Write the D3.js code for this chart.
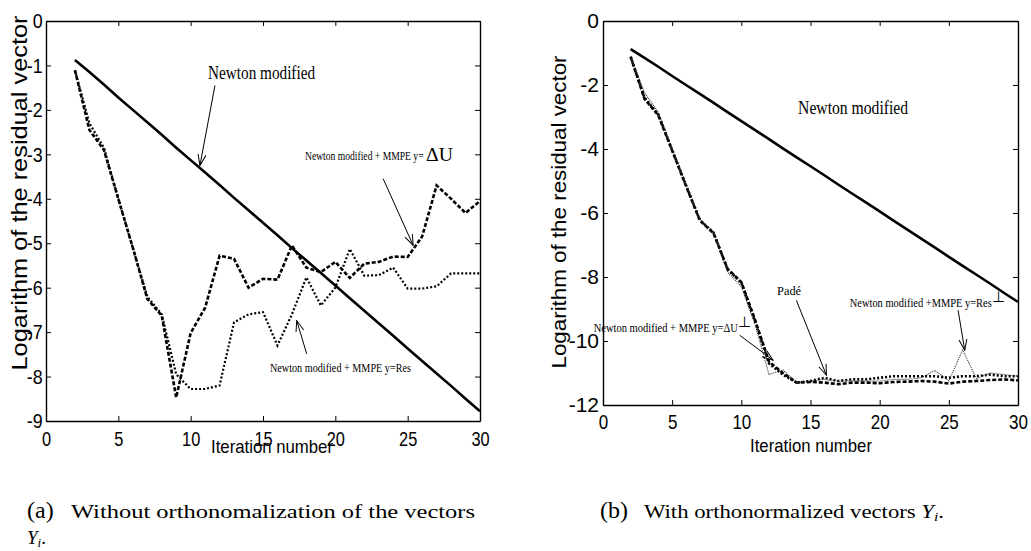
<!DOCTYPE html>
<html>
<head>
<meta charset="utf-8">
<script src="https://cdn.jsdelivr.net/npm/d3@7"></script>
<style>
  body { margin: 0; background: #fff; }
  svg { display: block; }
</style>
</head>
<body>
<svg width="1031" height="551"></svg>
<script>
// iteration numbers shared by every curve
const iterations = [2, 3, 4, 5, 6, 7, 8, 9, 10, 11, 12, 13, 14, 15, 16, 17, 18, 19, 20, 21, 22, 23, 24, 25, 26, 27, 28, 29, 30];

// plain modified Newton, same in both panels
const newtonModified = [-0.88, -1.15, -1.43, -1.72, -2.0, -2.28, -2.56, -2.85, -3.13, -3.41, -3.69, -3.98, -4.26, -4.54, -4.82,
  -5.11, -5.39, -5.67, -5.95, -6.24, -6.52, -6.8, -7.08, -7.37, -7.65, -7.93, -8.21, -8.5, -8.78];

// panel (a)
const mmpeDeltaU = [-1.11, -2.45, -2.9, -4.0, -5.1, -6.25, -6.63, -8.47, -7.02, -6.45, -5.28, -5.35, -6.0, -5.8, -5.82,
  -5.05, -5.55, -5.65, -5.42, -5.78, -5.46, -5.42, -5.3, -5.31, -4.85, -3.7, -4.0, -4.32, -4.05];
const mmpeRes = [-1.11, -2.3, -2.85, -4.0, -5.1, -6.2, -6.6, -7.95, -8.28, -8.28, -8.2, -6.78, -6.6, -6.55, -7.3,
  -6.6, -5.77, -6.4, -6.0, -5.13, -5.73, -5.72, -5.55, -6.02, -6.02, -5.97, -5.68, -5.68, -5.68];

// panel (b)
const mmpeDeltaUOrtho = [-1.12, -2.43, -2.95, -4.05, -5.15, -6.23, -6.64, -7.74, -8.16, -9.35, -10.65, -11.0, -11.3, -11.28, -11.3,
  -11.35, -11.3, -11.3, -11.32, -11.28, -11.27, -11.25, -11.27, -11.33, -11.27, -11.25, -11.22, -11.2, -11.23];
const mmpeResOrtho = [-1.1, -2.25, -2.85, -4.0, -5.1, -6.2, -6.6, -7.85, -8.3, -9.5, -11.05, -10.9, -11.3, -11.25, -11.2,
  -11.25, -11.25, -11.25, -11.25, -11.2, -11.2, -11.15, -10.92, -11.25, -10.28, -11.18, -11.0, -11.05, -11.1];
const pade = [-1.12, -2.4, -2.92, -4.03, -5.13, -6.22, -6.62, -7.76, -8.18, -9.4, -10.7, -11.05, -11.3, -11.25, -11.15,
  -11.25, -11.2, -11.2, -11.15, -11.1, -11.1, -11.1, -11.1, -11.15, -11.1, -11.1, -11.05, -11.1, -11.1];

const xTicks = [0, 5, 10, 15, 20, 25, 30];
const yTicksA = [0, -1, -2, -3, -4, -5, -6, -7, -8, -9];
const yTicksB = [0, -2, -4, -6, -8, -10, -12];

const svg = d3.select("svg");
const serif = "'Liberation Serif', 'Times New Roman', serif";
const sans = "'Liberation Sans', Arial, sans-serif";
const fmt = d => String(d); // plain hyphen minus, like the original

// open arrow head
svg.append("defs")
  .append("marker")
  .attr("id", "head")
  .attr("viewBox", "0 0 12 10")
  .attr("refX", 11)
  .attr("refY", 5)
  .attr("markerWidth", 12)
  .attr("markerHeight", 10)
  .attr("markerUnits", "userSpaceOnUse")
  .attr("orient", "auto")
  .append("path")
  .attr("d", "M0,1 L11,5 L0,9")
  .attr("fill", "none")
  .attr("stroke", "#000")
  .attr("stroke-width", 1);

const toPoints = values => values.map((v, i) => ({ x: iterations[i], y: v }));

const buildPanel = (cfg) => {
  const g = svg.append("g");
  const x = d3.scaleLinear().domain([0, 30]).range([cfg.left, cfg.right]);
  const y = d3.scaleLinear().domain(cfg.yDomain).range([cfg.bottom, cfg.top]);

  // box with inward ticks on all four sides
  g.append("g")
    .attr("transform", "translate(0," + cfg.bottom + ")")
    .call(d3.axisBottom(x).tickValues(xTicks).tickFormat(fmt).tickSizeInner(-5).tickSizeOuter(0).tickPadding(10))
    .call(a => a.selectAll("text")
      .attr("font-size", cfg.xFont)
      .attr("font-family", sans)
      .attr("transform", "scale(" + cfg.xSquash + ",1)"));
  g.append("g")
    .attr("transform", "translate(0," + cfg.top + ")")
    .call(d3.axisTop(x).tickValues(xTicks).tickSizeInner(-5).tickSizeOuter(0).tickFormat(""));
  g.append("g")
    .attr("transform", "translate(" + cfg.left + ",0)")
    .call(d3.axisLeft(y).tickValues(cfg.yTicks).tickFormat(fmt).tickSizeInner(-5).tickSizeOuter(0).tickPadding(cfg.yPad))
    .call(a => a.selectAll("text")
      .attr("font-size", cfg.yFont)
      .attr("font-family", sans)
      .attr("transform", "scale(" + cfg.ySquash + ",1)"));
  g.append("g")
    .attr("transform", "translate(" + cfg.right + ",0)")
    .call(d3.axisRight(y).tickValues(cfg.yTicks).tickSizeInner(-5).tickSizeOuter(0).tickFormat(""));
  g.selectAll(".domain").attr("stroke-width", 1.4);
  g.selectAll(".tick line").attr("stroke-width", 1);

  g.append("text")
    .attr("x", cfg.xLabel[0]).attr("y", cfg.xLabel[1])
    .attr("text-anchor", "middle")
    .attr("font-family", sans)
    .attr("font-size", 19)
    .attr("textLength", 122)
    .attr("lengthAdjust", "spacingAndGlyphs")
    .text("Iteration number");

  g.append("text")
    .attr("transform", "translate(" + cfg.yLabel[0] + "," + cfg.yLabel[1] + ") rotate(-90)")
    .attr("text-anchor", "middle")
    .attr("font-family", sans)
    .attr("font-size", cfg.yLabelFont)
    .attr("textLength", cfg.yLabelLen)
    .attr("lengthAdjust", "spacingAndGlyphs")
    .text("Logarithm of the residual vector");

  const line = d3.line().x(d => x(d.x)).y(d => y(d.y));
  cfg.series.forEach(s => {
    g.append("path")
      .datum(toPoints(s.values))
      .attr("d", line)
      .attr("fill", "none")
      .attr("stroke", s.color || "#000")
      .attr("stroke-width", s.width)
      .attr("stroke-dasharray", s.dash);
  });

  cfg.notes.forEach(n => {
    const t = g.append("text")
      .attr("x", x(n.at[0])).attr("y", y(n.at[1]))
      .attr("text-anchor", n.anchor || "start")
      .attr("dominant-baseline", "middle")
      .attr("font-family", serif)
      .attr("font-size", n.size);
    n.parts.forEach(p => {
      const ts = t.append("tspan").text(p.t);
      if (p.size) ts.attr("font-size", p.size);
      if (p.dy) ts.attr("dy", p.dy);
      if (p.len) ts.attr("textLength", p.len).attr("lengthAdjust", "spacingAndGlyphs");
    });
  });

  cfg.arrows.forEach(a => {
    g.append("line")
      .attr("x1", x(a[0][0])).attr("y1", y(a[0][1]))
      .attr("x2", x(a[1][0])).attr("y2", y(a[1][1]))
      .attr("stroke", "#000")
      .attr("stroke-width", 1)
      .attr("marker-end", "url(#head)");
  });
};

buildPanel({
  left: 46, right: 480, top: 21, bottom: 421,
  yDomain: [-9, 0], yTicks: yTicksA,
  xFont: 21, yFont: 21, yPad: 4, xSquash: 0.78, ySquash: 0.85,
  xLabel: [272, 453], yLabel: [27, 193], yLabelFont: 22, yLabelLen: 355,
  series: [
    { values: newtonModified, width: 2.6 },
    { values: mmpeDeltaU, width: 2.6, dash: "4,2" },
    { values: mmpeRes, width: 2.2, dash: "2,2" }
  ],
  notes: [
    { at: [14.9, -1.22], anchor: "middle", size: 19, parts: [{ t: "Newton modified", len: 107 }] },
    { at: [17.9, -3.06], size: 12, parts: [{ t: "Newton modified + MMPE  y= ", len: 121 }, { t: "ΔU", size: 18, len: 27 }] },
    { at: [15.48, -7.83], size: 12, parts: [{ t: "Newton modified + MMPE y=Res", len: 141 }] }
  ],
  arrows: [
    [[11.68, -1.45], [10.64, -3.25]],
    [[23.31, -3.55], [25.38, -5.05]],
    [[18.02, -7.49], [17.33, -6.74]]
  ]
});

buildPanel({
  left: 603, right: 1018, top: 21, bottom: 405,
  yDomain: [-12, 0], yTicks: yTicksB,
  xFont: 20, yFont: 21, yPad: 4, xSquash: 0.85, ySquash: 1,
  xLabel: [811, 452], yLabel: [566, 212], yLabelFont: 21, yLabelLen: 313,
  series: [
    { values: newtonModified, width: 2.6 },
    { values: pade, width: 2.6, dash: "2,2" },
    { values: mmpeDeltaUOrtho, width: 2.6, dash: "4,2" },
    { values: mmpeResOrtho, width: 1.1, dash: "1,1", color: "#333" }
  ],
  notes: [
    { at: [18.08, -2.79], anchor: "middle", size: 19, parts: [{ t: "Newton modified", len: 110 }] },
    { at: [13.45, -8.47], anchor: "middle", size: 13, parts: [{ t: "Padé", len: 24 }] },
    { at: [-0.67, -9.61], size: 12.5, parts: [{ t: "Newton modified + MMPE y=ΔU", len: 144 }, { t: "⊥", size: 15, dy: -5 }] },
    { at: [17.84, -8.85], size: 12.5, parts: [{ t: "Newton modified +MMPE y=Res", len: 142 }, { t: "⊥", size: 15, dy: -5 }] }
  ],
  arrows: [
    [[13.98, -8.73], [16.15, -11.07]],
    [[9.88, -9.82], [12.29, -10.6]],
    [[25.67, -9.04], [26.15, -10.29]]
  ]
});

// sub-figure captions
const caption = (x0, y0, tag, words, len) => {
  svg.append("text")
    .attr("x", x0).attr("y", y0)
    .attr("font-family", serif)
    .attr("font-size", 24)
    .text(tag);
  return svg.append("text")
    .attr("x", x0 + 44).attr("y", y0)
    .attr("font-family", serif)
    .attr("font-size", 19)
    .attr("textLength", len)
    .attr("lengthAdjust", "spacingAndGlyphs")
    .text(words);
};

caption(27, 518, "(a)", "Without orthonomalization of the vectors", 404);
const yi = svg.append("text")
  .attr("x", 27).attr("y", 544)
  .attr("font-family", serif)
  .attr("font-size", 19);
yi.append("tspan").attr("font-style", "italic").text("Y");
yi.append("tspan").attr("font-style", "italic").attr("font-size", 13).attr("dy", 3).text("i");
yi.append("tspan").attr("dy", -3).text(".");

const capB = caption(600, 518, "(b)", "With orthonormalized vectors ", 300);
capB.append("tspan").attr("font-style", "italic").text("Y");
capB.append("tspan").attr("font-style", "italic").attr("font-size", 13).attr("dy", 3).text("i");
capB.append("tspan").attr("dy", -3).text(".");
</script>
</body>
</html>
